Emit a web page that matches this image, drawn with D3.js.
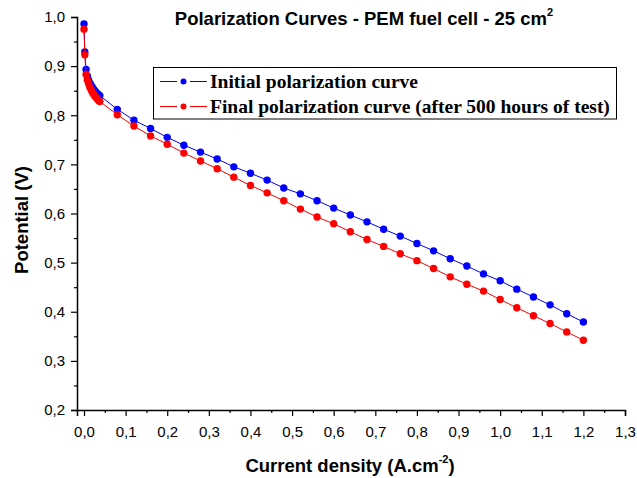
<!DOCTYPE html>
<html>
<head>
<meta charset="utf-8">
<script src="https://cdn.jsdelivr.net/npm/d3@7"></script>
<style>
  html, body { margin: 0; padding: 0; background: #fff; }
  svg { display: block; }
</style>
</head>
<body>
<div id="chart"></div>
<script>
// current density (A.cm-2)
const currentDensity = [0, 0.002, 0.005, 0.008, 0.011, 0.014, 0.017, 0.02, 0.023, 0.026, 0.029, 0.032, 0.035, 0.038,
  0.08, 0.12, 0.16, 0.2, 0.24, 0.28, 0.32, 0.36, 0.4, 0.44, 0.48, 0.52, 0.56, 0.6, 0.64, 0.68, 0.72,
  0.76, 0.8, 0.84, 0.88, 0.92, 0.96, 1.0, 1.04, 1.08, 1.12, 1.16, 1.2];

// potential (V)
const initialCurve = [0.986, 0.929, 0.893, 0.880, 0.872, 0.866, 0.861, 0.857, 0.853, 0.850, 0.847, 0.844, 0.842, 0.840,
  0.812, 0.790, 0.773, 0.755, 0.739, 0.725, 0.711, 0.695, 0.682, 0.668, 0.652, 0.640, 0.626, 0.611, 0.597, 0.583, 0.568,
  0.554, 0.539, 0.524, 0.508, 0.493, 0.477, 0.463, 0.446, 0.430, 0.414, 0.396, 0.379];

const finalCurve = [0.975, 0.923, 0.883, 0.872, 0.864, 0.857, 0.852, 0.847, 0.843, 0.839, 0.836, 0.833, 0.830, 0.828,
  0.801, 0.778, 0.758, 0.741, 0.723, 0.707, 0.691, 0.674, 0.657, 0.642, 0.626, 0.609, 0.593, 0.579, 0.563, 0.547, 0.533,
  0.518, 0.504, 0.488, 0.471, 0.456, 0.442, 0.425, 0.408, 0.392, 0.376, 0.359, 0.342];

const seriesNames = ['Initial polarization curve', 'Final polarization curve (after 500 hours of test)'];
const seriesColors = ['#0000ff', '#ff0000'];

const xMajor = d3.range(0, 14).map(i => i / 10);
const xMinor = d3.range(0, 13).map(i => i / 10 + 0.05);
const yMajor = d3.range(2, 11).map(i => i / 10);
const yMinor = d3.range(2, 10).map(i => i / 10 + 0.05);

const width = 637, height = 478;
const fmt = v => d3.format('.1f')(v).replace('.', ',');

const svg = d3.select('#chart').append('svg')
  .attr('width', width)
  .attr('height', height);

const x = d3.scaleLinear().domain([-0.0168, 1.3]).range([77, 625]);
const y = d3.scaleLinear().domain([0.2, 1.0]).range([410, 17]);

// axes
const xAxis = svg.append('g').attr('transform', `translate(0,${y(0.2)})`)
  .call(d3.axisBottom(x).tickValues(xMajor).tickFormat(fmt).tickSize(6).tickPadding(7));
svg.append('g').attr('transform', `translate(0,${y(0.2)})`)
  .call(d3.axisBottom(x).tickValues(xMinor).tickFormat('').tickSize(3))
  .select('.domain').remove();

const yAxis = svg.append('g').attr('transform', `translate(${x.range()[0]},0)`)
  .call(d3.axisLeft(y).tickValues(yMajor).tickFormat(fmt).tickSize(6).tickPadding(6));
svg.append('g').attr('transform', `translate(${x.range()[0]},0)`)
  .call(d3.axisLeft(y).tickValues(yMinor).tickFormat('').tickSize(3))
  .select('.domain').remove();

svg.selectAll('.domain').attr('stroke', '#000').attr('stroke-width', 1.5);
svg.selectAll('.tick line').attr('stroke', '#000').attr('stroke-width', 1.2);
svg.selectAll('.tick text')
  .attr('font-family', 'Liberation Sans, Arial, sans-serif')
  .attr('font-size', 15)
  .attr('fill', '#000');
xAxis.selectAll('.tick text').attr('dy', '0.9em');

// series
const seriesData = [initialCurve, finalCurve].map(vals => currentDensity.map((c, i) => [c, vals[i]]));
const line = d3.line().x(d => x(d[0])).y(d => y(d[1]));

seriesData.forEach((pts, k) => {
  svg.append('path')
    .datum(pts)
    .attr('fill', 'none')
    .attr('stroke', seriesColors[k])
    .attr('stroke-width', 1)
    .attr('d', line);
  svg.append('g').selectAll('circle')
    .data(pts)
    .join('circle')
    .attr('cx', d => x(d[0]))
    .attr('cy', d => y(d[1]))
    .attr('r', 3.7)
    .attr('fill', seriesColors[k]);
});

// title
const title = svg.append('text')
  .attr('x', 364).attr('y', 25)
  .attr('text-anchor', 'middle')
  .attr('font-family', 'Liberation Sans, Arial, sans-serif')
  .attr('font-weight', 'bold')
  .attr('font-size', 18.5)
  .text('Polarization Curves - PEM fuel cell - 25 cm');
title.append('tspan').attr('dy', -9).attr('font-size', 11).text('2');

// legend
const legend = svg.append('g');
legend.append('rect')
  .attr('x', 153.5).attr('y', 67.5).attr('width', 463).attr('height', 51.5)
  .attr('fill', '#fff').attr('stroke', '#000').attr('stroke-width', 1);
seriesNames.forEach((name, k) => {
  const ly = 81.5 + k * 25;
  const row = legend.append('g');
  row.append('line').attr('x1', 160).attr('x2', 177).attr('y1', ly).attr('y2', ly)
    .attr('stroke', seriesColors[k]).attr('stroke-width', 1);
  row.append('line').attr('x1', 190).attr('x2', 207).attr('y1', ly).attr('y2', ly)
    .attr('stroke', seriesColors[k]).attr('stroke-width', 1);
  row.append('circle').attr('cx', 183.5).attr('cy', ly).attr('r', 3)
    .attr('fill', seriesColors[k]);
  row.append('text').attr('x', 210).attr('y', ly + 6.5)
    .attr('font-family', 'Liberation Serif, Times New Roman, serif')
    .attr('font-weight', 'bold')
    .attr('font-size', 19.5)
    .text(name);
});

// axis titles
const xTitle = svg.append('text')
  .attr('x', 350).attr('y', 472)
  .attr('text-anchor', 'middle')
  .attr('font-family', 'Liberation Sans, Arial, sans-serif')
  .attr('font-weight', 'bold')
  .attr('font-size', 18.5)
  .text('Current density (A.cm');
xTitle.append('tspan').attr('dy', -9).attr('font-size', 11).text('-2');
xTitle.append('tspan').attr('dy', 9).text(')');

svg.append('text')
  .attr('transform', 'translate(28,220) rotate(-90)')
  .attr('text-anchor', 'middle')
  .attr('font-family', 'Liberation Sans, Arial, sans-serif')
  .attr('font-weight', 'bold')
  .attr('font-size', 18.5)
  .text('Potential (V)');
</script>
</body>
</html>
